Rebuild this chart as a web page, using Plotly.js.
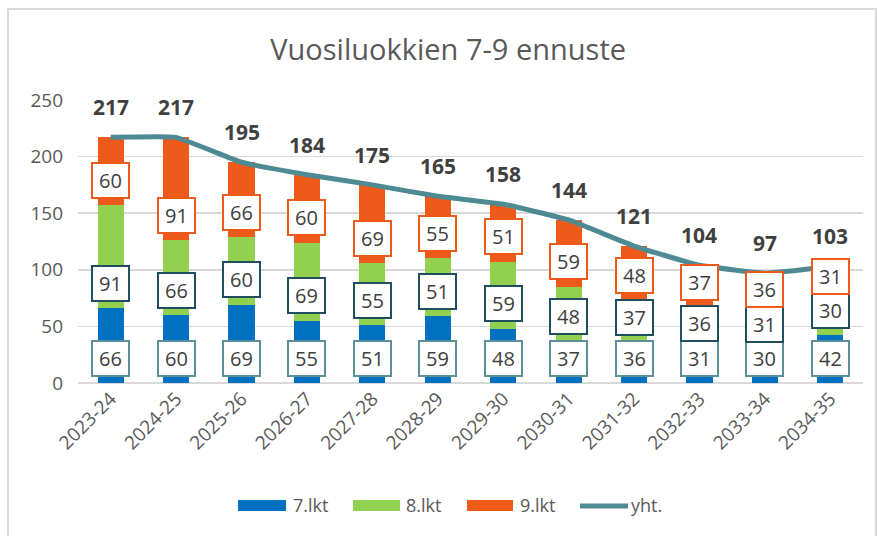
<!DOCTYPE html>
<html>
<head>
<meta charset="utf-8">
<script src="https://cdn.plot.ly/plotly-3.0.1.min.js"></script>
<style>html,body{margin:0;padding:0;background:#fff;}#chart{width:877px;height:536px;}</style>
</head>
<body>
<div id="chart"></div>
<script>
const categories = ["2023-24","2024-25","2025-26","2026-27","2027-28","2028-29","2029-30","2030-31","2031-32","2032-33","2033-34","2034-35"];
const lkt7 = [66,60,69,55,51,59,48,37,36,31,30,42];
const lkt8 = [91,66,60,69,55,51,59,48,37,36,31,30];
const lkt9 = [60,91,66,60,69,55,51,59,48,37,36,31];
const yht  = [217,217,195,184,175,165,158,144,121,104,97,103];
const seriesNames = ["7.lkt","8.lkt","9.lkt","yht."];

const colors = {b7:"#0070C0", b8:"#92D050", b9:"#EE5A1A", line:"#4E8A93"};
const labelBorders = ["#5A9099","#1F4E5E","#EE5A1A"];
const txtFont = "Open Sans, Noto Sans, sans-serif";

const traces = [
  {type:"bar", name:seriesNames[0], x:categories, y:lkt7, marker:{color:colors.b7}},
  {type:"bar", name:seriesNames[1], x:categories, y:lkt8, marker:{color:colors.b8}},
  {type:"bar", name:seriesNames[2], x:categories, y:lkt9, marker:{color:colors.b9}},
  {type:"scatter", mode:"lines", name:seriesNames[3], x:categories, y:yht,
   line:{color:colors.line, width:5, shape:"spline", smoothing:0.3}}
];

const annotations = [];
const stacks = [lkt7, lkt8, lkt9];
categories.forEach((c, i) => {
  let base = 0;
  stacks.forEach((s, k) => {
    annotations.push({
      x:c, y:base + 22, xref:"x", yref:"y", text:String(s[i]), showarrow:false,
      bgcolor:"#ffffff", bordercolor:labelBorders[k], borderwidth:2, borderpad:1,
      width:33, height:31, font:{family:txtFont, size:20, color:"#404040"}
    });
    base += s[i];
  });
  annotations.push({
    x:c, y:yht[i], xref:"x", yref:"y", text:"<b>"+yht[i]+"</b>", showarrow:false,
    yshift:30, font:{family:txtFont, size:21, color:"#404040"}
  });
});

// custom legend (Excel style wide swatches)
const px = v => (v - 78) / 785;
const py = v => (383 - v) / 283;
const legendSw = [
  {x0:238, x1:286, color:colors.b7, label:seriesNames[0], tx:291},
  {x0:353, x1:400, color:colors.b8, label:seriesNames[1], tx:404},
  {x0:467, x1:513, color:colors.b9, label:seriesNames[2], tx:518}
];
const shapes = [{type:"rect", xref:"paper", yref:"paper", x0:-0.0892, x1:1.0166, y0:-0.7, y1:1.3216,
           line:{color:"#D9D9D9", width:2}, fillcolor:"rgba(0,0,0,0)", layer:"below"}];
legendSw.forEach(s => {
  shapes.push({type:"rect", xref:"paper", yref:"paper", x0:px(s.x0), x1:px(s.x1), y0:py(511), y1:py(500),
               fillcolor:s.color, line:{width:0}});
  annotations.push({xref:"paper", yref:"paper", x:px(s.tx), y:py(505), xanchor:"left", yanchor:"middle",
               text:s.label, showarrow:false, font:{family:txtFont, size:18, color:"#595959"}});
});
shapes.push({type:"line", xref:"paper", yref:"paper", x0:px(580), x1:px(628), y0:py(506), y1:py(506),
             line:{color:colors.line, width:5}});
annotations.push({xref:"paper", yref:"paper", x:px(629), y:py(505), xanchor:"left", yanchor:"middle",
             text:seriesNames[3], showarrow:false, font:{family:txtFont, size:18, color:"#595959"}});

const layout = {
  width:877, height:536,
  margin:{l:78, r:14, t:100, b:153},
  paper_bgcolor:"#ffffff", plot_bgcolor:"#ffffff",
  barmode:"stack", bargap:0.6,
  title:{text:"Vuosiluokkien 7-9 ennuste", xref:"container", yref:"container",
         x:0.511, y:0.907, xanchor:"center", yanchor:"middle",
         font:{family:txtFont, size:29, color:"#595959"}},
  xaxis:{type:"category", tickangle:-45, showgrid:false, zeroline:false,
         showline:false, ticks:"", tickfont:{family:txtFont, size:19, color:"#595959"}},
  yaxis:{range:[0,250], dtick:50, showgrid:true, gridcolor:"#D9D9D9", gridwidth:1.5,
         zeroline:true, zerolinecolor:"#D9D9D9", zerolinewidth:2, ticks:"",
         ticklabelstandoff:14,
         tickfont:{family:txtFont, size:19, color:"#595959"}},
  showlegend:false,
  annotations:annotations,
  shapes:shapes
};

Plotly.newPlot("chart", traces, layout, {displayModeBar:false, staticPlot:true});
</script>
</body>
</html>
